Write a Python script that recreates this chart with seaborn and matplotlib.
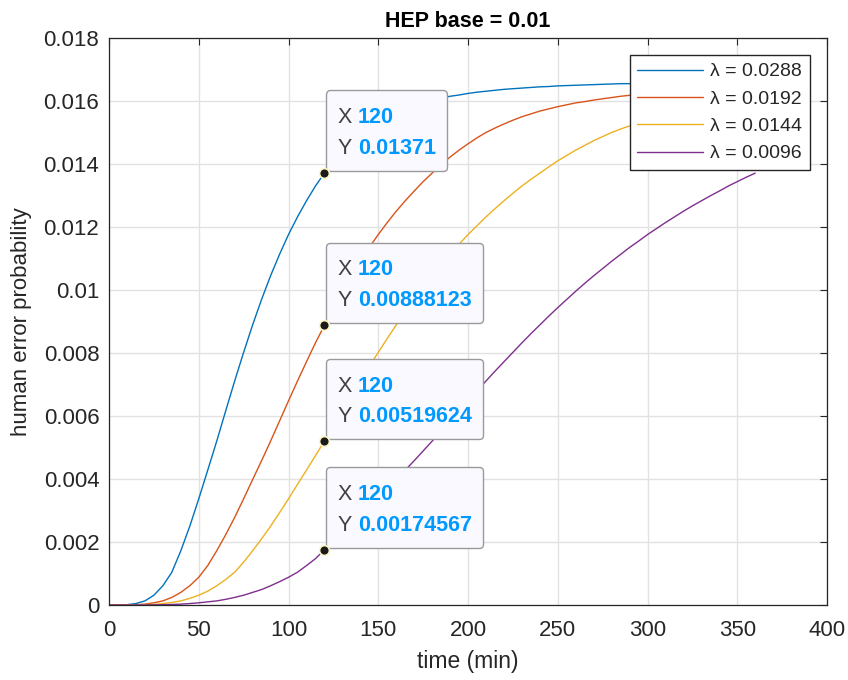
import matplotlib
matplotlib.use("Agg")
import matplotlib.pyplot as plt
from matplotlib.offsetbox import TextArea, HPacker, VPacker, DrawingArea, AnnotationBbox
import pandas as pd
import seaborn as sns

# values (time in min, 5-min steps)
time_min = list(range(0, 365, 5))
lambda_labels = ["0.0288", "0.0192", "0.0144", "0.0096"]

hep_0288 = [0, 0.000001, 0.000009, 0.000046, 0.00013, 0.00031, 0.00061, 0.00104, 0.00172, 0.0025,
            0.00337, 0.00428, 0.0052, 0.00616, 0.00711, 0.00802, 0.00889, 0.0097, 0.01045, 0.01113,
            0.01176, 0.01232, 0.01283, 0.0133, 0.01371, 0.0141, 0.01444, 0.01474, 0.015, 0.01521,
            0.01539, 0.01554, 0.01568, 0.01579, 0.01588, 0.01596, 0.01603, 0.01609, 0.01615, 0.01619,
            0.01624, 0.01628, 0.01631, 0.01634, 0.01637, 0.01639, 0.01641, 0.01643, 0.01645, 0.01646,
            0.01648, 0.01649, 0.0165, 0.01651, 0.01652, 0.01653, 0.01654, 0.01655, 0.01655, 0.01656,
            0.01656, 0.01657, 0.01657, 0.01658, 0.01658, 0.01658, 0.01659, 0.01659, 0.01659, 0.01659,
            0.0166, 0.0166, 0.0166]
hep_0192 = [0, 0, 0.000002, 0.000009, 0.000027, 0.00007, 0.00013, 0.00024, 0.0004, 0.00061,
            0.00088, 0.00125, 0.00172, 0.00223, 0.00278, 0.00337, 0.00398, 0.00458, 0.0052, 0.00584,
            0.00648, 0.00711, 0.00772, 0.00832, 0.00888, 0.00944, 0.00996, 0.01045, 0.01091, 0.01135,
            0.01176, 0.01214, 0.0125, 0.01283, 0.01314, 0.01344, 0.01371, 0.01398, 0.01422, 0.01444,
            0.01464, 0.01483, 0.015, 0.01514, 0.01527, 0.01539, 0.0155, 0.01559, 0.01568, 0.01575,
            0.01582, 0.01588, 0.01594, 0.01598, 0.01603, 0.01607, 0.01611, 0.01615, 0.01618, 0.01621,
            0.01624, 0.01626, 0.01629, 0.01631, 0.01633, 0.01635, 0.01637, 0.01638, 0.0164, 0.01641,
            0.01643, 0.01644, 0.01645]
hep_0144 = [0, 0, 0.000001, 0.000003, 0.000009, 0.00002, 0.000046, 0.00008, 0.00013, 0.00021,
            0.00031, 0.00044, 0.00061, 0.00081, 0.00104, 0.00136, 0.00172, 0.0021, 0.0025, 0.00293,
            0.00337, 0.00383, 0.00428, 0.00474, 0.0052, 0.00568, 0.00616, 0.00664, 0.00711, 0.00757,
            0.00802, 0.00846, 0.00889, 0.0093, 0.0097, 0.01008, 0.01045, 0.0108, 0.01113, 0.01145,
            0.01176, 0.01204, 0.01232, 0.01258, 0.01283, 0.01307, 0.0133, 0.01351, 0.01371, 0.01391,
            0.0141, 0.01427, 0.01444, 0.01459, 0.01474, 0.01487, 0.015, 0.01511, 0.01521, 0.0153,
            0.01539, 0.01547, 0.01554, 0.01561, 0.01568, 0.01573, 0.01579, 0.01583, 0.01588, 0.01592,
            0.01596, 0.016, 0.01603]
hep_0096 = [0, 0, 0, 0.000001, 0.000002, 0.000005, 0.000009, 0.000017, 0.000027, 0.000046,
            0.00007, 0.0001, 0.00013, 0.00018, 0.00024, 0.00031, 0.0004, 0.00049, 0.00061, 0.00074,
            0.00088, 0.00104, 0.00125, 0.00147, 0.00175, 0.00197, 0.00223, 0.0025, 0.00278, 0.00307,
            0.00337, 0.00367, 0.00398, 0.00428, 0.00458, 0.00489, 0.0052, 0.00552, 0.00584, 0.00616,
            0.00648, 0.0068, 0.00711, 0.00742, 0.00772, 0.00802, 0.00832, 0.00861, 0.00889, 0.00917,
            0.00944, 0.0097, 0.00996, 0.01021, 0.01045, 0.01068, 0.01091, 0.01113, 0.01135, 0.01155,
            0.01176, 0.01195, 0.01214, 0.01232, 0.0125, 0.01267, 0.01283, 0.01299, 0.01314, 0.0133,
            0.01344, 0.01358, 0.01371]

tip_x = 120
tip_y = [0.01371, 0.00888123, 0.00519624, 0.00174567]
tip_text = ["0.01371", "0.00888123", "0.00519624", "0.00174567"]

colors = ["#0072BD", "#D95319", "#EDB120", "#7E2F8E"]

rows = []
for lab, vals in zip(lambda_labels, [hep_0288, hep_0192, hep_0144, hep_0096]):
    for t, v in zip(time_min, vals):
        rows.append({"time": t, "hep": v, "series": f"λ = {lab}"})
df = pd.DataFrame(rows)
hue_order = [f"λ = {lab}" for lab in lambda_labels]

sns.set_style("white")
plt.rcParams["font.family"] = ["Liberation Sans", "DejaVu Sans"]
dark = "#262626"

fig = plt.figure(figsize=(8.48, 6.8), dpi=100)
ax = fig.add_axes([109 / 848, 75 / 680, 718 / 848, 567 / 680])

sns.lineplot(data=df, x="time", y="hep", hue="series", hue_order=hue_order,
             palette=colors, linewidth=1.0, ax=ax, zorder=2)

ax.set_xlim(0, 400)
ax.set_ylim(0, 0.018)
xt = list(range(0, 401, 50))
yt = [round(i * 0.002, 3) for i in range(10)]
ax.set_xticks(xt)
ax.set_xticklabels([str(v) for v in xt])
ax.set_yticks(yt)
ax.set_yticklabels([f"{v:g}" for v in yt])
ax.grid(True, color="#e2e2e2", linewidth=1.0, zorder=0)
ax.set_axisbelow(True)
ax.tick_params(direction="in", top=True, right=True, length=5, width=0.8,
               color=dark, labelcolor=dark, labelsize=16)
ax.tick_params(axis="x", pad=11)
ax.tick_params(axis="y", pad=7)
for sp in ax.spines.values():
    sp.set_color(dark)
    sp.set_linewidth(0.9)

ax.set_title("HEP base = 0.01", fontsize=15.5, fontweight="bold", color="black", pad=8)

# data tips
grey = dict(color="#404040", fontsize=15.5)
blue = dict(color="#0099FF", fontsize=15.5, fontweight="bold")
for yv, txt in zip(tip_y, tip_text):
    line1 = HPacker(children=[TextArea("X", textprops=grey), TextArea("120", textprops=blue)],
                    align="baseline", pad=0, sep=4.5)
    line2 = HPacker(children=[TextArea("Y", textprops=grey), TextArea(txt, textprops=blue)],
                    align="baseline", pad=0, sep=4.5)
    inner = VPacker(children=[line1, line2], align="left", pad=0, sep=7)
    box = VPacker(children=[DrawingArea(1, 4), inner, DrawingArea(1, 0.5)],
                  align="left", pad=8.2, sep=0)
    ab = AnnotationBbox(box, (tip_x, yv), xybox=(1.2, 1.4), xycoords="data",
                        boxcoords="offset points", box_alignment=(0, 0), pad=0,
                        bboxprops=dict(boxstyle="round,pad=0,rounding_size=0.3",
                                       fc="#f9f9ff", ec="#9a9a9a", lw=1.0),
                        zorder=4)
    ax.add_artist(ab)

tips = pd.DataFrame({"x": [tip_x] * 4, "y": tip_y})
sns.scatterplot(data=tips, x="x", y="y", ax=ax, color="#1a1a1a", edgecolor="#fff6c8",
                linewidth=1.2, s=50, zorder=5, legend=False)
ax.set_xlabel("time (min)", fontsize=16.5, color=dark, labelpad=6)
ax.set_ylabel("human error probability", fontsize=16, color=dark, labelpad=8)

leg = ax.legend(loc="upper right", bbox_to_anchor=(0.9763, 0.970), fontsize=14,
                frameon=True, fancybox=False, edgecolor=dark, framealpha=1,
                handlelength=3.4, handletextpad=0.35, labelspacing=0.5,
                borderpad=0.4, borderaxespad=0)
leg.get_frame().set_linewidth(1.0)
leg.set_zorder(6)
for h in leg.get_lines():
    h.set_linewidth(1.0)

fig.savefig("out.png", dpi=100)
